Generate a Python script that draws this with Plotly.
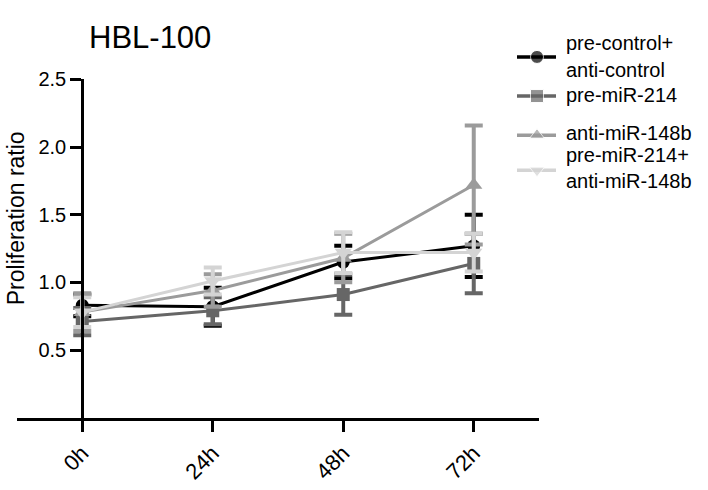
import plotly.graph_objects as go

# ---- data -------------------------------------------------------------
time_labels = ["0h", "24h", "48h", "72h"]
series_names = ["pre-control+<br>anti-control", "pre-miR-214",
                "anti-miR-148b", "pre-miR-214+<br>anti-miR-148b"]

ctrl_mean = [0.83, 0.82, 1.15, 1.27]
ctrl_err = [0.08, 0.14, 0.12, 0.23]

pre214_mean = [0.71, 0.79, 0.91, 1.14]
pre214_err = [0.10, 0.10, 0.15, 0.22]

anti148_mean = [0.78, 0.94, 1.18, 1.72]
anti148_err = [0.14, 0.12, 0.18, 0.44]

combo_mean = [0.78, 1.01, 1.22, 1.22]
combo_err = [0.11, 0.10, 0.15, 0.14]

y_ticks = [0.5, 1.0, 1.5, 2.0, 2.5]

# ---- styling ----------------------------------------------------------
W, H = 708, 490
FONT = "Liberation Sans, Arial, Helvetica, sans-serif"
colors = ["#000000", "#666666", "#9b9b9b", "#d4d4d4"]
symbols = ["circle", "square", "triangle-up", "triangle-down"]
msizes = [13, 13, 15, 15]

means = [ctrl_mean, pre214_mean, anti148_mean, combo_mean]
errs = [ctrl_err, pre214_err, anti148_err, combo_err]


def py(v):
    """pixel row from the top -> paper fraction"""
    return 1 - v / H


# plot frame in pixels
px_left, px_right = 17, 539
px_top, px_bottom = 70, 416
x_range = [-0.5, 3.5]
y_range = [0, 2.5]

x_dom = [px_left / W, px_right / W]
y_dom = [py(px_bottom), py(px_top)]
y_axis_pos = x_dom[0] + (0 - x_range[0]) / (x_range[1] - x_range[0]) * (x_dom[1] - x_dom[0])

fig = go.Figure()
xs = list(range(len(time_labels)))
for name, m, e, c, s, ms in zip(series_names, means, errs, colors, symbols, msizes):
    fig.add_trace(go.Scatter(
        x=xs, y=m, mode="lines+markers", name=name.replace("<br>", " "),
        line=dict(color=c, width=3),
        marker=dict(symbol=s, size=ms, color=c),
        error_y=dict(type="data", array=e, visible=True, color=c,
                     thickness=4, width=9),
        showlegend=False, cliponaxis=False,
    ))

# ---- key (drawn on a pixel-space overlay axis) -------------------------
key_line_x = [517, 537, 556]
key_rows = [47, 87, 127, 163]
key_text_x = 564
key_text_rows = [[33, 60], [86], [125], [147, 174]]

for c, s, row in zip(colors, symbols, key_rows):
    fig.add_trace(go.Scatter(
        x=key_line_x, y=[row] * 3, mode="lines+markers",
        line=dict(color=c, width=3.5),
        marker=dict(symbol=s, size=[0, 13, 0], color=c),
        xaxis="x2", yaxis="y2", showlegend=False, hoverinfo="skip",
    ))

annotations = []
for name, rows in zip(series_names, key_text_rows):
    for line, ty in zip(name.split("<br>"), rows):
        annotations.append(dict(
            x=key_text_x / W, y=py(ty), xref="paper", yref="paper",
            text=line, showarrow=False, xanchor="left", yanchor="middle",
            font=dict(family=FONT, size=20, color="#000000"),
        ))

# chart title and y-axis title
annotations.append(dict(
    x=150 / W, y=py(27), xref="paper", yref="paper", text="HBL-100",
    showarrow=False, xanchor="center", yanchor="middle",
    font=dict(family=FONT, size=31, color="#000000"),
))
annotations.append(dict(
    x=16 / W, y=py(212), xref="paper", yref="paper",
    text="Proliferation ratio", textangle=-90, showarrow=False,
    xanchor="center", yanchor="middle",
    font=dict(family=FONT, size=23, color="#000000"),
))

fig.update_layout(
    width=W, height=H,
    margin=dict(l=0, r=0, t=0, b=0),
    paper_bgcolor="white", plot_bgcolor="rgba(0,0,0,0)",
    font=dict(family=FONT, size=20, color="#000000"),
    xaxis=dict(
        domain=x_dom, range=x_range, anchor="y",
        tickmode="array", tickvals=xs, ticktext=time_labels,
        tickangle=-45, ticks="outside", ticklen=11, tickwidth=3,
        tickcolor="#000000", showline=True, linewidth=3,
        linecolor="#000000", showgrid=False, zeroline=False,
        tickfont=dict(family=FONT, size=22),
    ),
    yaxis=dict(
        domain=y_dom, range=y_range, anchor="free", position=y_axis_pos,
        tickmode="array", tickvals=y_ticks,
        ticktext=[f"{v:.1f}" for v in y_ticks],
        ticks="outside", ticklen=11, tickwidth=3, tickcolor="#000000",
        showline=True, linewidth=3, linecolor="#000000",
        showgrid=False, zeroline=False,
        tickfont=dict(family=FONT, size=20),
    ),
    xaxis2=dict(domain=[0, 1], range=[0, W], anchor="y2", visible=False,
                fixedrange=True),
    yaxis2=dict(domain=[0, 1], range=[H, 0], anchor="x2", visible=False,
                fixedrange=True),
    annotations=annotations,
)

fig.write_html("out.html")
